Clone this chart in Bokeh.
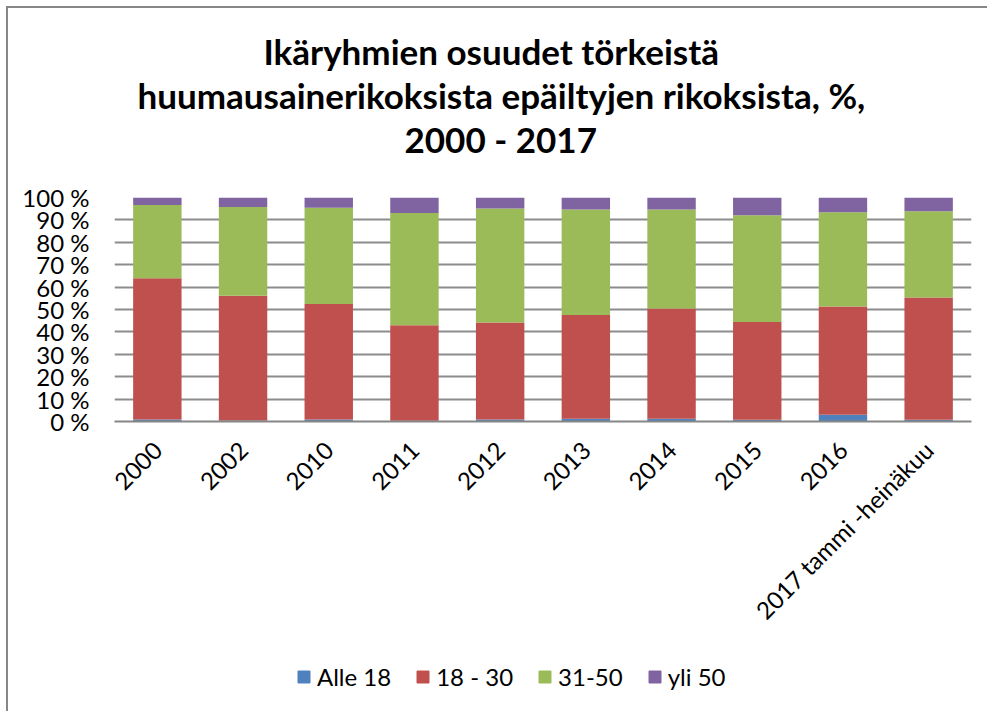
import math
from bokeh.plotting import figure
from bokeh.layouts import column
from bokeh.models import FixedTicker, Title, Legend, LegendItem, ColumnDataSource
from bokeh.embed import file_html
from bokeh.resources import INLINE

categories = ["2000", "2002", "2010", "2011", "2012", "2013", "2014", "2015", "2016",
              "2017 tammi -heinäkuu"]
series_names = ["Alle 18", "18 - 30", "31-50", "yli 50"]
alle_18 = [0.9, 0.45, 0.9, 0.3, 0.9, 1.2, 1.2, 0.75, 3.0, 0.75]
v18_30 = [63.0, 55.7, 51.5, 42.7, 43.3, 46.4, 49.2, 43.7, 48.3, 54.6]
v31_50 = [32.7, 39.6, 43.0, 50.1, 50.9, 47.0, 44.2, 47.6, 42.1, 38.5]
yli_50 = [3.4, 4.25, 4.6, 6.9, 4.9, 5.4, 5.4, 7.95, 6.6, 6.15]
y_ticks = [0, 10, 20, 30, 40, 50, 60, 70, 80, 90, 100]
title_lines = ["Ikäryhmien osuudet törkeistä",
               "huumausainerikoksista epäiltyjen rikoksista, %,",
               "2000 - 2017"]

colors = ["#4F81BD", "#C0504D", "#9BBB59", "#8064A2"]
FONT = "Lato"

src = ColumnDataSource(dict(cat=categories, a=alle_18, b=v18_30, c=v31_50, d=yli_50))

p = figure(x_range=categories, y_range=(0, 100), width=979, height=642,
           output_backend="svg", toolbar_location=None,
           min_border_left=106, min_border_right=16, min_border_top=189,
           min_border_bottom=229)
p.outline_line_color = None
p.background_fill_color = "white"
p.border_fill_color = "white"

renderers = p.vbar_stack(["a", "b", "c", "d"], x="cat", width=0.565, color=colors,
                         line_color=None, source=src)

p.xgrid.grid_line_color = None
p.ygrid.grid_line_color = "#8c8c8c"
p.ygrid.grid_line_width = 2
p.yaxis.ticker = FixedTicker(ticks=y_ticks)
p.yaxis.major_label_overrides = {t: f"{t} %" for t in y_ticks}
p.yaxis.axis_line_color = None
p.yaxis.major_tick_line_color = None
p.yaxis.minor_tick_line_color = None
p.yaxis.major_tick_out = 0
p.yaxis.major_label_standoff = 25
p.yaxis.major_label_text_font = FONT
p.yaxis.major_label_text_font_size = "24px"
p.yaxis.major_label_text_color = "black"

p.xaxis.axis_line_color = "#868686"
p.xaxis.axis_line_width = 2
p.xaxis.major_tick_line_color = None
p.xaxis.major_tick_out = 0
p.xaxis.major_label_standoff = 24
p.xaxis.major_label_orientation = math.pi / 4
p.xaxis.major_label_text_font = FONT
p.xaxis.major_label_text_font_size = "24px"
p.xaxis.major_label_text_color = "black"

# titles: first added sits closest to the plot frame
p.add_layout(Title(text=" ", text_font_size="20px", standoff=14), "above")
offsets = [149, 23, 290]
for line, off in reversed(list(zip(title_lines, offsets))):
    p.add_layout(Title(text=line, align="left", offset=off, text_font=FONT,
                       text_font_style="bold", text_font_size="35px",
                       text_color="black", standoff=0), "above")

# legend strip below the chart
q = figure(width=979, height=61, output_backend="svg", toolbar_location=None,
           x_axis_location=None, y_axis_location=None,
           min_border_left=0, min_border_right=0, min_border_top=0,
           min_border_bottom=0)
q.outline_line_color = None
q.xgrid.grid_line_color = None
q.ygrid.grid_line_color = None
q.border_fill_color = "white"
legend_src = ColumnDataSource(dict(x=[float("nan")], top=[float("nan")]))
dummies = [q.vbar(x="x", top="top", width=1, color=c, source=legend_src) for c in colors]
items = [LegendItem(label=n, renderers=[r]) for n, r in zip(series_names, dummies)]
legend = Legend(items=items, orientation="horizontal", location=(182, 20),
                label_text_font=FONT, label_text_font_size="24px",
                label_text_color="black",
                glyph_width=15, glyph_height=15, label_standoff=6, spacing=24,
                padding=0, margin=0, border_line_color=None,
                background_fill_alpha=0)
q.add_layout(legend)

layout = column(p, q, spacing=0)
layout.styles = {"border-top": "2px solid #878787", "border-left": "2px solid #878787",
                 "margin-top": "6px", "margin-left": "6px"}

open("out.html", "w").write(file_html(layout, INLINE))
